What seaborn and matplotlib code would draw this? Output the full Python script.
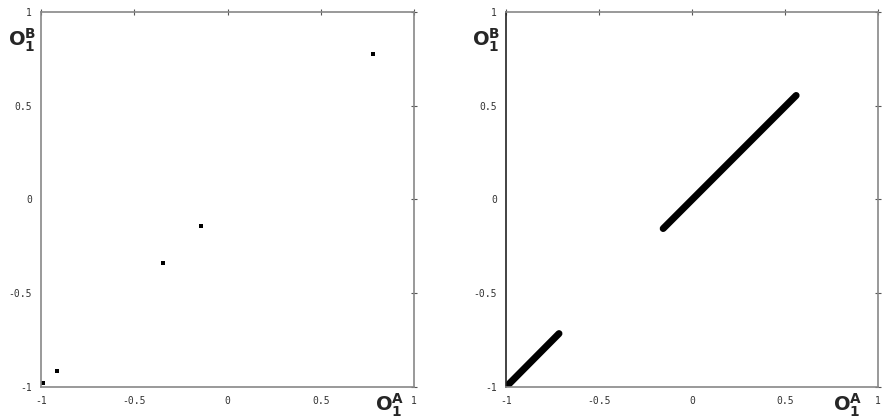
import matplotlib
matplotlib.use("Agg")
import matplotlib.pyplot as plt
import seaborn as sns
import pandas as pd
import numpy as np

# Left panel: discrete points
left_x = [0.78, -0.14, -0.345, -0.915, -0.99]
left_y = [0.776, -0.14, -0.34, -0.915, -0.98]

# Right panel: two line segments (start/end points)
seg_id = [0, 0, 1, 1]
seg_x = [-0.99, -0.715, -0.155, 0.56]
seg_y = [-0.99, -0.715, -0.155, 0.555]

ticks = [-1, -0.5, 0, 0.5, 1]
tick_labels = ["-1", "-0.5", "0", "0.5", "1"]

sns.set_style("white")
plt.rcParams['font.family'] = ['DejaVu Sans']

fig = plt.figure(figsize=(8.93, 4.20), dpi=100)
W, H = 893, 420
ax1 = fig.add_axes([41 / W, 1 - 387 / H, (414 - 41) / W, (387 - 12) / H])
ax2 = fig.add_axes([506 / W, 1 - 387 / H, (878 - 506) / W, (387 - 12) / H])

df1 = pd.DataFrame({"x": left_x, "y": left_y})
sns.scatterplot(data=df1, x="x", y="y", ax=ax1, color="black", marker="s",
                s=9, edgecolor="black", linewidth=0)

df2 = pd.DataFrame({"seg": seg_id, "x": seg_x, "y": seg_y})
sns.lineplot(data=df2, x="x", y="y", units="seg", estimator=None, ax=ax2,
             color="black", linewidth=5, solid_capstyle="round", sort=False)

for ax in (ax1, ax2):
    ax.set_xlim(-1, 1)
    ax.set_ylim(-1, 1)
    ax.set_xticks(ticks)
    ax.set_yticks(ticks)
    ax.set_xticklabels(tick_labels, fontsize=7, color="#333333", family="DejaVu Sans Mono")
    ax.set_yticklabels(tick_labels, fontsize=7, color="#333333", family="DejaVu Sans Mono")
    ax.set_xlabel("")
    ax.set_ylabel("")
    for sp in ax.spines.values():
        sp.set_color("#888888")
        sp.set_linewidth(1.2)
        sp.set_visible(True)
    ax.tick_params(axis="both", which="both", direction="inout", length=5,
                   width=0.8, color="#555555", top=True, right=True,
                   labeltop=False, labelright=False, pad=4)
ax2.spines["left"].set_color("#222222")

lab_a = r"$\mathbf{O}_\mathbf{1}^\mathbf{A}$"
lab_b = r"$\mathbf{O}_\mathbf{1}^\mathbf{B}$"
fig.text(390 / W, 1 - 405 / H, lab_a, fontsize=14, ha="center", va="center")
fig.text(22 / W, 1 - 40 / H, lab_b, fontsize=14, ha="center", va="center")
fig.text(848 / W, 1 - 405 / H, lab_a, fontsize=14, ha="center", va="center")
fig.text(486 / W, 1 - 40 / H, lab_b, fontsize=14, ha="center", va="center")

fig.savefig("out.png", dpi=100, facecolor="white")
